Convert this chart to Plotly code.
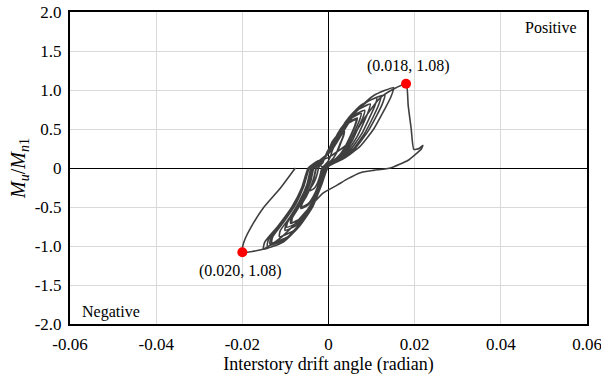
import plotly.graph_objects as go

# Hysteresis trace: drift angle (radian) and Mu/Mn1, cycle by cycle
drift = [
    0.0,
    # cycle +-0.0027
    -0.0019, -0.0013, -0.0008, -0.0003, 0.0004, 0.0012, 0.0011, 0.0008, 0.0004, -0.0002, -0.0009, -0.0015,
    -0.0018, -0.0022, -0.0027, -0.0034, -0.0042, -0.0042, -0.0036, -0.003, -0.0026, -0.0023,
    # cycles +-0.005
    -0.0019, -0.001, -0.0001, 0.0009, 0.002, 0.0035, 0.0033, 0.0028, 0.002, 0.001, -0.0002, -0.0013,
    -0.0018, -0.0025, -0.0035, -0.0047, -0.0062, -0.0061, -0.0051, -0.0041, -0.0033, -0.0028,
    -0.002, -0.001, 0.0, 0.0009, 0.0022, 0.0037, 0.0035, 0.003, 0.0022, 0.0011, -0.0001, -0.0013,
    -0.0018, -0.0026, -0.0036, -0.0048, -0.0064, -0.0063, -0.0053, -0.0042, -0.0034, -0.0029,
    # cycles +-0.0075
    -0.0021, -0.0006, 0.0008, 0.0023, 0.0041, 0.0064, 0.0061, 0.0054, 0.0041, 0.0025, 0.0006, -0.0011,
    -0.0018, -0.0029, -0.0044, -0.0062, -0.0085, -0.0084, -0.0069, -0.0053, -0.0041, -0.0034,
    -0.0021, -0.0006, 0.0009, 0.0024, 0.0043, 0.0067, 0.0063, 0.0056, 0.0043, 0.0026, 0.0007, -0.0011,
    -0.0019, -0.003, -0.0046, -0.0065, -0.0088, -0.0087, -0.0071, -0.0054, -0.0043, -0.0035,
    # cycle +-0.0085
    -0.002, -0.0003, 0.0012, 0.0029, 0.005, 0.0076, 0.0072, 0.0064, 0.005, 0.0032, 0.0011, -0.0009,
    -0.0018, -0.0031, -0.0049, -0.007, -0.0097, -0.0095, -0.0078, -0.0059, -0.0045, -0.0036,
    # cycle +-0.0093
    -0.002, -0.0002, 0.0015, 0.0033, 0.0056, 0.0084, 0.008, 0.0071, 0.0056, 0.0036, 0.0013, -0.0008,
    -0.0017, -0.0031, -0.005, -0.0073, -0.0101, -0.0099, -0.0081, -0.006, -0.0046, -0.0037,
    # cycle +-0.0105
    -0.0019, 0.0001, 0.002, 0.004, 0.0066, 0.0097, 0.0092, 0.0083, 0.0066, 0.0043, 0.0018, -0.0006,
    -0.0017, -0.0033, -0.0055, -0.0081, -0.0114, -0.0112, -0.009, -0.0067, -0.005, -0.004,
    # cycles +-0.012..0.013
    -0.0019, 0.0004, 0.0025, 0.0048, 0.0077, 0.0112, 0.0107, 0.0096, 0.0077, 0.0051, 0.0023, -0.0004,
    -0.0017, -0.0035, -0.0062, -0.0093, -0.0132, -0.0129, -0.0104, -0.0076, -0.0057, -0.0044,
    -0.0019, 0.0005, 0.0029, 0.0053, 0.0084, 0.0122, 0.0116, 0.0105, 0.0084, 0.0057, 0.0026, -0.0003,
    -0.0016, -0.0036, -0.0063, -0.0095, -0.0136, -0.0133, -0.0107, -0.0078, -0.0058, -0.0044,
    # cycle +-0.014
    -0.0019, 0.0007, 0.0032, 0.0058, 0.009, 0.0131, 0.0125, 0.0113, 0.009, 0.0061, 0.0029, -0.0002,
    -0.0016, -0.0036, -0.0065, -0.0099, -0.0142, -0.0139, -0.0111, -0.0081, -0.006, -0.0046,
    # cycle +-0.015
    -0.002, 0.001, 0.0038, 0.0068, 0.0105, 0.0151, 0.0144, 0.013, 0.0105, 0.0072, 0.0035, 0.0,
    -0.0015, -0.0037, -0.0068, -0.0105, -0.0151, -0.0148, -0.0118, -0.0085, -0.0062, -0.0047,
    # final excursion to +0.018, drop, then to -0.020 and unloading
    -0.0025, -0.0002, 0.0044, 0.009, 0.012, 0.015, 0.018,
    0.0185, 0.0192, 0.0198, 0.021, 0.0219, 0.0215, 0.0205, 0.0185, 0.0144, 0.0105, 0.0074, 0.0044, 0.002, -0.0012,
    -0.004, -0.0075, -0.0112, -0.0151, -0.020, -0.0199, -0.0193, -0.0181, -0.0151, -0.0112, -0.0077,
]
moment = [
    0.0,
    0.028, 0.07, 0.141, 0.211, 0.262, 0.29, 0.253, 0.211, 0.141, 0.076, 0.034, 0.006,
    -0.056, -0.139, -0.209, -0.265, -0.29, -0.265, -0.209, -0.139, -0.07, 0.0,
    0.044, 0.109, 0.218, 0.328, 0.406, 0.45, 0.393, 0.328, 0.218, 0.118, 0.053, 0.009,
    -0.096, -0.24, -0.36, -0.457, -0.5, -0.457, -0.36, -0.24, -0.12, 0.0,
    0.046, 0.114, 0.228, 0.342, 0.424, 0.47, 0.411, 0.342, 0.228, 0.123, 0.055, 0.009,
    -0.1, -0.25, -0.375, -0.475, -0.52, -0.475, -0.375, -0.25, -0.125, 0.0,
    0.06, 0.151, 0.301, 0.451, 0.56, 0.62, 0.542, 0.451, 0.301, 0.162, 0.073, 0.012,
    -0.134, -0.337, -0.505, -0.639, -0.7, -0.639, -0.505, -0.337, -0.168, 0.0,
    0.062, 0.156, 0.31, 0.466, 0.578, 0.64, 0.559, 0.466, 0.31, 0.168, 0.075, 0.013,
    -0.136, -0.342, -0.512, -0.648, -0.71, -0.648, -0.512, -0.342, -0.17, 0.0,
    0.068, 0.17, 0.34, 0.51, 0.632, 0.7, 0.612, 0.51, 0.34, 0.183, 0.082, 0.014,
    -0.146, -0.366, -0.548, -0.694, -0.76, -0.694, -0.548, -0.366, -0.182, 0.0,
    0.072, 0.18, 0.359, 0.539, 0.668, 0.74, 0.647, 0.539, 0.359, 0.194, 0.087, 0.015,
    -0.154, -0.385, -0.577, -0.73, -0.8, -0.73, -0.577, -0.385, -0.192, 0.0,
    0.08, 0.199, 0.398, 0.597, 0.74, 0.82, 0.717, 0.597, 0.398, 0.215, 0.096, 0.016,
    -0.169, -0.423, -0.634, -0.803, -0.88, -0.803, -0.634, -0.423, -0.211, 0.0,
    0.087, 0.219, 0.437, 0.655, 0.813, 0.9, 0.787, 0.655, 0.437, 0.236, 0.105, 0.018,
    -0.184, -0.462, -0.692, -0.876, -0.96, -0.876, -0.692, -0.462, -0.23, 0.0,
    0.089, 0.224, 0.446, 0.67, 0.831, 0.92, 0.804, 0.67, 0.446, 0.241, 0.108, 0.018,
    -0.186, -0.467, -0.699, -0.886, -0.97, -0.886, -0.699, -0.467, -0.233, 0.0,
    0.091, 0.228, 0.456, 0.684, 0.849, 0.94, 0.822, 0.684, 0.456, 0.246, 0.11, 0.019,
    -0.192, -0.481, -0.721, -0.913, -1.0, -0.913, -0.721, -0.481, -0.24, 0.0,
    0.1, 0.25, 0.5, 0.75, 0.93, 1.03, 0.9, 0.75, 0.5, 0.27, 0.12, 0.02,
    -0.2, -0.5, -0.75, -0.95, -1.04, -0.95, -0.75, -0.5, -0.25, 0.0,
    0.09, 0.13, 0.31, 0.69, 0.9, 1.01, 1.08,
    0.8, 0.5, 0.24, 0.25, 0.29, 0.24, 0.19, 0.1, 0.0, -0.03, -0.06, -0.14, -0.22, -0.32,
    -0.48, -0.7, -0.9, -1.04, -1.08, -1.0, -0.9, -0.77, -0.51, -0.26, 0.0,
]

peak_x = [0.018, -0.020]
peak_y = [1.08, -1.08]
peak_labels = ["(0.018, 1.08)", "(0.020, 1.08)"]

x_ticks = [-0.06, -0.04, -0.02, 0, 0.02, 0.04, 0.06]
x_tick_text = ["-0.06", "-0.04", "-0.02", "0", "0.02", "0.04", "0.06"]
y_ticks = [-2.0, -1.5, -1.0, -0.5, 0, 0.5, 1.0, 1.5, 2.0]
y_tick_text = ["-2.0", "-1.5", "-1.0", "-0.5", "0", "0.5", "1.0", "1.5", "2.0"]

FONT = "Liberation Serif"

fig = go.Figure()
fig.add_trace(go.Scatter(
    x=drift, y=moment, mode="lines",
    line=dict(color="#3f3f3f", width=1.6, shape="spline", smoothing=0.5),
    hoverinfo="skip", showlegend=False,
))
fig.add_trace(go.Scatter(
    x=peak_x, y=peak_y, mode="markers",
    marker=dict(color="#ff0000", size=10),
    showlegend=False,
))

fig.add_annotation(x=peak_x[0], y=peak_y[0], text=peak_labels[0], showarrow=False,
                   yshift=18, xshift=2, font=dict(family=FONT, size=16, color="black"))
fig.add_annotation(x=peak_x[1], y=peak_y[1], text=peak_labels[1], showarrow=False,
                   yshift=-19, xshift=-2, font=dict(family=FONT, size=16, color="black"))
fig.add_annotation(x=0.985, y=0.95, xref="paper", yref="paper", text="Positive",
                   showarrow=False, xanchor="right", yanchor="middle",
                   font=dict(family=FONT, size=16, color="black"))
fig.add_annotation(x=0.02, y=0.04, xref="paper", yref="paper", text="Negative",
                   showarrow=False, xanchor="left", yanchor="middle",
                   font=dict(family=FONT, size=16, color="black"))

fig.update_layout(
    width=601, height=380,
    margin=dict(l=70, r=14, t=12, b=56),
    paper_bgcolor="white", plot_bgcolor="white",
    font=dict(family=FONT, size=17, color="black"),
    xaxis=dict(
        range=[-0.06, 0.06], tickvals=x_ticks, ticktext=x_tick_text,
        automargin=False, ticklabeloverflow="allow",
        showgrid=True, gridcolor="#d9d9d9", gridwidth=1,
        zeroline=True, zerolinecolor="black", zerolinewidth=1,
        showline=True, linecolor="black", linewidth=2, mirror=True,
        ticks="outside", ticklen=4, tickcolor="rgba(0,0,0,0)",
        title=dict(text="Interstory drift angle (radian)", standoff=4,
                   font=dict(family=FONT, size=18)),
        tickfont=dict(family=FONT, size=17),
    ),
    yaxis=dict(
        range=[-2.0, 2.0], tickvals=y_ticks, ticktext=y_tick_text,
        automargin=False, ticklabeloverflow="allow",
        showgrid=True, gridcolor="#d9d9d9", gridwidth=1,
        zeroline=True, zerolinecolor="black", zerolinewidth=1,
        showline=True, linecolor="black", linewidth=2, mirror=True,
        ticks="outside", ticklen=3, tickcolor="rgba(0,0,0,0)",
        title=dict(text="<i>M</i><sub><i>u</i></sub>/<i>M</i><sub><i>n</i>1</sub>",
                   standoff=4, font=dict(family=FONT, size=20)),
        tickfont=dict(family=FONT, size=17),
    ),
)

fig.write_html("out.html")
